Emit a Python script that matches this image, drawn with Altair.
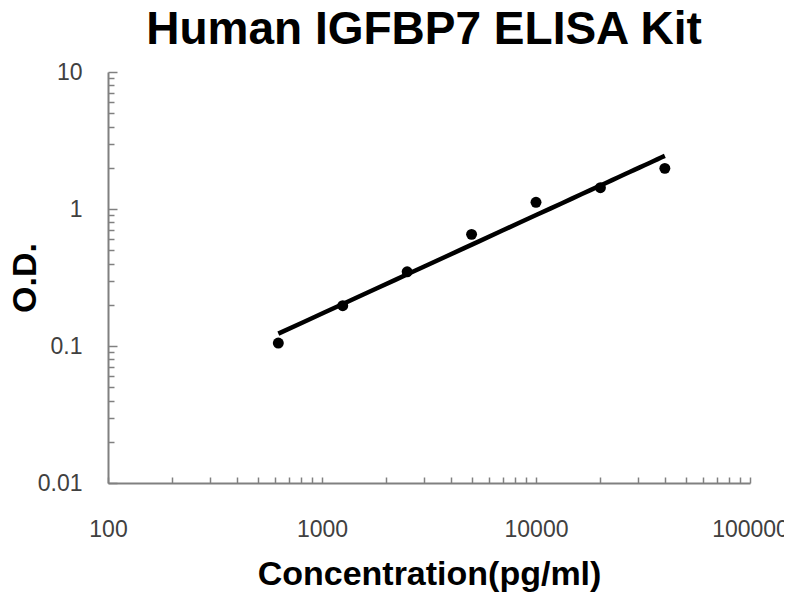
import pandas as pd
import altair as alt

# standard curve readings
concentration = [625, 1250, 2500, 5000, 10000, 20000, 40000]
od_values = [0.105, 0.197, 0.348, 0.653, 1.12, 1.43, 1.98]

x_major = [100, 1000, 10000, 100000]
x_minor = [m * d for d in [100, 1000, 10000] for m in range(1, 10)] + [100000]
y_major = [0.01, 0.1, 1, 10]
y_minor = [m * d for d in [0.01, 0.1, 1] for m in range(1, 10)] + [10]

W, H = 642, 411
FONT = "Liberation Sans"
AXIS_GREY = "#808080"


def get_df():
    return pd.DataFrame({"conc": concentration, "od": od_values})


def get_chart():
    df = get_df()
    x_scale = alt.Scale(type="log", domain=[100, 100000], nice=False)
    y_scale = alt.Scale(type="log", domain=[0.01, 10], nice=False)

    points = (
        alt.Chart(df)
        .mark_circle(size=120, color="black", opacity=1)
        .encode(
            x=alt.X(
                "conc:Q",
                scale=x_scale,
                axis=alt.Axis(
                    orient="bottom", values=x_major, format="d",
                    title="Concentration(pg/ml)", ticks=False, grid=False,
                    domainColor=AXIS_GREY, domainWidth=2,
                    labelPadding=35, labelFontSize=23, labelColor="#404040",
                    labelFont=FONT, labelFlush=False,
                    titleFont=FONT, titleFontSize=34, titleFontWeight="bold",
                    titleColor="black", titlePadding=16,
                ),
            ),
            y=alt.Y(
                "od:Q",
                scale=y_scale,
                axis=alt.Axis(
                    orient="left", values=y_major, format="~g", title="O.D.",
                    ticks=False, domain=False, grid=False,
                    labelPadding=26, labelFontSize=23, labelColor="#404040",
                    labelFont=FONT, labelFlush=False,
                    titleFont=FONT, titleFontSize=34, titleFontWeight="bold",
                    titleColor="black", titleX=-73, titleY=H / 2,
                    titleBaseline="alphabetic",
                ),
            ),
        )
    )

    # power fit drawn by the library; its axes carry the inward ticks
    fit = (
        alt.Chart(df)
        .transform_regression("conc", "od", method="pow")
        .mark_line(color="black", strokeWidth=4.5)
        .encode(
            x=alt.X(
                "conc:Q",
                scale=x_scale,
                axis=alt.Axis(
                    orient="bottom", offset=-6, values=x_minor, labels=False,
                    title=None, grid=False, domain=False, tickSize=6,
                    tickWidth=1.5, tickColor=AXIS_GREY,
                ),
            ),
            y=alt.Y(
                "od:Q",
                scale=y_scale,
                axis=alt.Axis(
                    orient="right", offset=-W, values=y_minor, labels=False,
                    title=None, grid=False,
                    tickSize={"condition": {"test": "indexof([0.01, 0.1, 1, 10], datum.value) >= 0", "value": 9}, "value": 6},
                    tickWidth=1.5, tickColor=AXIS_GREY,
                    domainColor=AXIS_GREY, domainWidth=2,
                ),
            ),
        )
    )

    return (
        alt.layer(fit, points)
        .resolve_axis(x="independent", y="independent")
        .properties(
            width=W,
            height=H,
            title=alt.TitleParams(
                "Human IGFBP7 ELISA Kit", font=FONT, fontSize=46,
                fontWeight="bold", color="black", anchor="middle",
                dy=-3, dx=-5,
            ),
            autosize=alt.AutoSizeParams(type="none"),
            padding={"left": 100, "top": 64, "right": 34, "bottom": 125},
        )
        .configure_view(stroke=None)
    )


chart = get_chart()
chart.save("out.html", embed_options={"renderer": "svg", "actions": False})
